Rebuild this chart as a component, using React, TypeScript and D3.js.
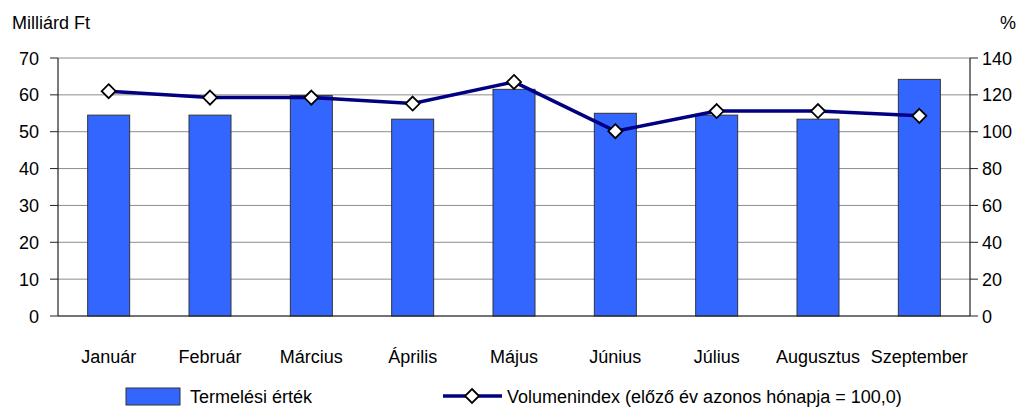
import React from "react";
import * as d3 from "d3";

const months = ["Január", "Február", "Március", "Április", "Május", "Június", "Július", "Augusztus", "Szeptember"];
const termelesi = [54.5, 54.5, 59.8, 53.4, 61.5, 55.0, 54.5, 53.4, 64.2];
const volumen = [122.0, 118.5, 118.5, 115.3, 127.0, 100.3, 111.2, 111.2, 108.6];
const leftTicks = [0, 10, 20, 30, 40, 50, 60, 70];
const rightTicks = [0, 20, 40, 60, 80, 100, 120, 140];

const W = 1023;
const H = 408;
const m = { top: 58, right: 53, bottom: 92, left: 58 };
const font = "'Liberation Sans Narrow', 'Arial Narrow', 'Liberation Sans', Arial, sans-serif";
const fs = 18;

const App = () => {
  const band = d3.scaleBand().domain(months).range([m.left, W - m.right]);

  const yL = d3.scaleLinear().domain([0, 70]).range([H - m.bottom, m.top]);
  const yR = d3.scaleLinear().domain([0, 140]).range([H - m.bottom, m.top]);

  const cx = (d) => band(d) + band.bandwidth() / 2;

  const line = d3
    .line()
    .x((d, i) => cx(months[i]))
    .y((d) => yR(d));

  const diamond = (px, py, r) =>
    `M${px},${py - r}L${px + r},${py}L${px},${py + r}L${px - r},${py}Z`;

  return (
    <svg width={W} height={H} style={{ position: "absolute", left: 0, top: 0, background: "#fff" }} fontFamily={font}>
      {/* grid */}
      {leftTicks.map((t) => (
        <line key={"g" + t} x1={m.left} x2={W - m.right} y1={yL(t)} y2={yL(t)} stroke="#8c8c8c" strokeWidth={1} />
      ))}
      {/* bars */}
      {termelesi.map((v, i) => (
        <rect
          key={"b" + i}
          x={cx(months[i]) - 21}
          y={yL(v)}
          width={42}
          height={yL(0) - yL(v)}
          fill="#3366FF"
          stroke="#333"
          strokeWidth={1}
        />
      ))}
      {/* axes */}
      <line x1={m.left} x2={m.left} y1={m.top} y2={H - m.bottom} stroke="#222" strokeWidth={1.2} />
      <line x1={W - m.right} x2={W - m.right} y1={m.top} y2={H - m.bottom} stroke="#222" strokeWidth={1.2} />
      <line x1={m.left} x2={W - m.right} y1={H - m.bottom} y2={H - m.bottom} stroke="#222" strokeWidth={1.2} />
      {leftTicks.map((t) => (
        <g key={"l" + t}>
          <line x1={m.left - 8} x2={m.left} y1={yL(t)} y2={yL(t)} stroke="#222" />
          <text x={39} y={yL(t) + 6.5} textAnchor="end" fontSize={fs} fill="#000">
            {t}
          </text>
        </g>
      ))}
      {rightTicks.map((t) => (
        <g key={"r" + t}>
          <line x1={W - m.right} x2={W - m.right + 8} y1={yR(t)} y2={yR(t)} stroke="#222" />
          <text x={982} y={yR(t) + 6.5} textAnchor="start" fontSize={fs} fill="#000">
            {t}
          </text>
        </g>
      ))}
      {months.map((mo) => (
        <text key={"x" + mo} x={cx(mo)} y={363} textAnchor="middle" fontSize={fs} fill="#000">
          {mo}
        </text>
      ))}
      <text x={12} y={29} fontSize={fs} fill="#000">Milliárd Ft</text>
      <text x={1000} y={29} fontSize={fs} fill="#000">%</text>
      {/* line */}
      <path d={line(volumen)} fill="none" stroke="#000080" strokeWidth={3.5} />
      {volumen.map((v, i) => (
        <path key={"d" + i} d={diamond(cx(months[i]), yR(v), 7)} fill="#fff" stroke="#000" strokeWidth={1.8} />
      ))}
      {/* legend */}
      <rect x={126} y={388} width={54} height={17} fill="#3366FF" stroke="#333" />
      <text x={190} y={403} fontSize={fs} fill="#000">Termelési érték</text>
      <line x1={443} x2={502} y1={396} y2={396} stroke="#000080" strokeWidth={3.5} />
      <path d={diamond(472, 396, 7)} fill="#fff" stroke="#000" strokeWidth={1.8} />
      <text x={507} y={403} fontSize={fs} fill="#000">Volumenindex (előző év azonos hónapja = 100,0)</text>
    </svg>
  );
};

export default App;
